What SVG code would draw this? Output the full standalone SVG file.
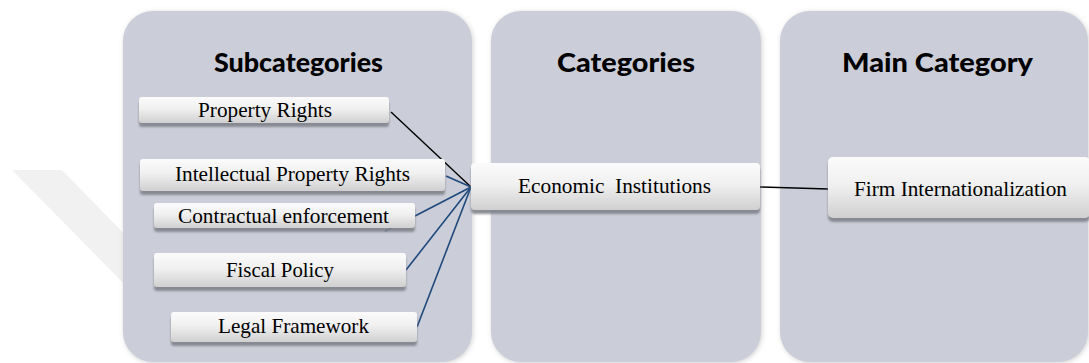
<svg xmlns="http://www.w3.org/2000/svg" width="1089" height="363" viewBox="0 0 1089 363">
  <style>
    .panel { fill: #cbced8; filter: url(#panelShadow); }
    .box { fill: url(#boxGrad); filter: url(#boxShadow); }
    .title { font-family: Lato, "Liberation Sans", sans-serif; font-weight: 900; font-size: 26px; fill: #000; }
    .label { font-family: "Liberation Serif", "Times New Roman", serif; font-size: 22px; fill: #000; }
    .blue { stroke: #1f497d; stroke-width: 1.6; fill: none; }
    .black { stroke: #000; stroke-width: 1.4; fill: none; }
  </style>
  <defs>
    <linearGradient id="boxGrad" x1="0" y1="0" x2="0" y2="1">
      <stop offset="0" stop-color="#fbfbfb"/>
      <stop offset="0.45" stop-color="#f0f0f0"/>
      <stop offset="1" stop-color="#d0d0d0"/>
    </linearGradient>
    <filter id="boxShadow" x="-5%" y="-20%" width="110%" height="160%">
      <feGaussianBlur in="SourceAlpha" stdDeviation="1.2" result="b"/>
      <feOffset in="b" dx="0" dy="3.5" result="o"/>
      <feFlood flood-color="#80838c" flood-opacity="0.9"/>
      <feComposite in2="o" operator="in" result="s"/>
      <feMerge><feMergeNode in="s"/><feMergeNode in="SourceGraphic"/></feMerge>
    </filter>
    <filter id="panelShadow" x="-5%" y="-5%" width="110%" height="110%">
      <feGaussianBlur in="SourceAlpha" stdDeviation="2.5" result="b"/>
      <feOffset in="b" dx="1" dy="1" result="o"/>
      <feFlood flood-color="#9a9a9a" flood-opacity="0.45"/>
      <feComposite in2="o" operator="in" result="s"/>
      <feMerge><feMergeNode in="s"/><feMergeNode in="SourceGraphic"/></feMerge>
    </filter>
  </defs>

  <rect x="0" y="0" width="1089" height="363" fill="#ffffff"/>
  <!-- faint watermark -->
  <polygon points="12,170 62,170 140,250 140,300" fill="#f1f1f1"/>

  <g id="panel-subcategories">
    <rect class="panel" x="123" y="11" width="349" height="351" rx="30"/>
    <text class="title" x="214" y="72" textLength="169" lengthAdjust="spacingAndGlyphs">Subcategories</text>
  </g>
  <g id="panel-categories">
    <rect class="panel" x="491" y="11" width="270" height="351" rx="30"/>
    <text class="title" x="557" y="72" textLength="138" lengthAdjust="spacingAndGlyphs">Categories</text>
  </g>
  <g id="panel-main-category">
    <rect class="panel" x="780" y="11" width="308" height="351" rx="30"/>
    <text class="title" x="842" y="72" textLength="191" lengthAdjust="spacingAndGlyphs">Main Category</text>
  </g>

  <g id="connectors">
    <line class="black" x1="391" y1="112" x2="471" y2="187"/>
    <line class="blue" x1="446" y1="176" x2="471" y2="187"/>
    <line class="blue" x1="415" y1="216" x2="471" y2="187"/>
    <line class="blue" x1="406" y1="270" x2="471" y2="187"/>
    <line class="blue" x1="417" y1="327" x2="471" y2="187"/>
    <line class="blue" x1="385" y1="231" x2="392" y2="228"/>
    <line class="black" x1="760" y1="187" x2="828" y2="189" stroke-width="2"/>
  </g>

  <g id="node-property-rights">
    <rect class="box" x="139" y="97" width="250" height="26" rx="3"/>
    <text class="label" x="198" y="117" textLength="134" lengthAdjust="spacingAndGlyphs">Property Rights</text>
  </g>
  <g id="node-intellectual-property-rights">
    <rect class="box" x="140" y="159" width="305" height="32" rx="3"/>
    <text class="label" x="175" y="181" textLength="235" lengthAdjust="spacingAndGlyphs">Intellectual Property Rights</text>
  </g>
  <g id="node-contractual-enforcement">
    <rect class="box" x="154" y="203" width="261" height="25" rx="3"/>
    <text class="label" x="178" y="223" textLength="211" lengthAdjust="spacingAndGlyphs">Contractual enforcement</text>
  </g>
  <g id="node-fiscal-policy">
    <rect class="box" x="154" y="253" width="252" height="34" rx="3"/>
    <text class="label" x="226" y="277" textLength="108" lengthAdjust="spacingAndGlyphs">Fiscal Policy</text>
  </g>
  <g id="node-legal-framework">
    <rect class="box" x="171" y="312" width="246" height="30" rx="3"/>
    <text class="label" x="218" y="333" textLength="151" lengthAdjust="spacingAndGlyphs">Legal Framework</text>
  </g>
  <g id="node-economic-institutions">
    <rect class="box" x="471" y="163" width="289" height="47" rx="4"/>
    <text class="label" x="518" y="193" textLength="193" lengthAdjust="spacingAndGlyphs" xml:space="preserve">Economic  Institutions</text>
  </g>
  <g id="node-firm-internationalization">
    <rect class="box" x="828" y="157" width="262" height="61" rx="5"/>
    <text class="label" x="854" y="196" textLength="213" lengthAdjust="spacingAndGlyphs">Firm Internationalization</text>
  </g>
</svg>
